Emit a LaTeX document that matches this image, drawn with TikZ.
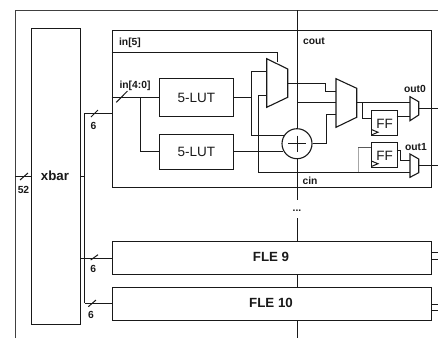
\documentclass[tikz,border=0pt]{standalone}
\usepackage{fontspec}
\setmainfont{Liberation Sans}
\tikzset{
  wire/.style={draw=black!90,line width=1pt},
  blk/.style={draw=black!90,line width=1.1pt,fill=white},
  lab/.style={font=\bfseries\fontsize{10.3}{12}\selectfont,inner sep=0pt,text=black!90},
  biglab/.style={font=\bfseries\fontsize{13.3}{15}\selectfont,inner sep=0pt,text=black!90},
  plainlab/.style={font=\fontsize{13.5}{15}\selectfont,inner sep=0pt,text=black!90},
}
\begin{document}
\begin{tikzpicture}[x=1pt,y=-1pt]
\useasboundingbox (0,0) rectangle (438,338);
% outer frame lines
\coordinate (lt) at (15,10); \coordinate (lb) at (15,338); \coordinate (rt) at (438,10);
\draw[draw=black!75,line width=1pt] (lb) -- (lt) -- (rt);
% xbar
\node[blk,anchor=north west,minimum width=48.5pt,minimum height=295.5pt,inner sep=0pt] (xbar) at (31,28) {};
\node[biglab] (xbarl) at (55,176) {xbar};
% bus wires under the FLE boxes
\coordinate (bus) at (84.7,176);
\draw[wire] (84.7,113.3) -- (84.7,303);
\draw[wire] (84.7,113.3) -- (111.5,113.3);
% FLE boxes
\node[blk,anchor=north west,minimum width=319.5pt,minimum height=157pt,inner sep=0pt] (fle) at (111.5,30) {};
\node[blk,anchor=north west,minimum width=319.5pt,minimum height=32.5pt,inner sep=0pt] (f9) at (111.5,241) {};
\node[blk,anchor=north west,minimum width=319.5pt,minimum height=33.5pt,inner sep=0pt] (f10) at (111.5,286.5) {};
\node[biglab] (f9l) at (271,257) {FLE 9};
\node[biglab] (f10l) at (271,303) {FLE 10};
% LUTs
\node[blk,anchor=north west,minimum width=74.3pt,minimum height=37.2pt,inner sep=0pt,plainlab] (lut1) at (158.7,78.3) {5-LUT};
\node[blk,anchor=north west,minimum width=74.3pt,minimum height=35pt,inner sep=0pt,plainlab] (lut2) at (158.7,134) {5-LUT};
% adder
\node[draw=black!90,line width=1.1pt,fill=white,circle,minimum size=30pt,inner sep=0pt] (add) at (297,143.7) {};
% FFs
\node[blk,anchor=north west,minimum width=25.4pt,minimum height=25.3pt,inner sep=0pt] (ff1) at (371.3,110) {};
\node[blk,anchor=north west,minimum width=25.4pt,minimum height=25pt,inner sep=0pt] (ff2) at (371.3,141.7) {};
\node[plainlab] at (384.5,124) {FF};
\node[plainlab] at (384.5,155.5) {FF};
\draw[wire] (371.3,129.5) -- (378,132.2) -- (371.3,135);
\draw[wire] (371.3,161) -- (378,163.7) -- (371.3,166.5);
% center line
\coordinate (ct) at (297,10); \coordinate (cb) at (297,200);
\coordinate (cr) at (297,218);
\draw[wire] (ct) -- (add.north);
\draw[wire] (add.south) -- (cb);
\draw[wire] (cr) -- (f9.north -| cr);
\draw[wire] (f9.south -| cr) -- (f10.north -| cr);
\draw[wire] (f10.south -| cr) -- (297,338);
\draw[wire] (288.3,143.7) -- (305.7,143.7);
\draw[wire] (297,135.5) -- (297,152);
\node[lab] (dots) at (297,211) {...};
% in wires
\coordinate (x52a) at (31,176);
\draw[wire] (lb |- x52a) -- (xbar.west |- x52a);
\draw[wire] (20,180) -- (28,173);
\node[lab] (l52) at (23.5,190) {52};
\draw[wire] (xbar.east |- bus) -- (bus);
\draw[wire] (91,117) -- (98,110);
\node[lab] (l6a) at (93.5,126) {6};
\draw[wire] (fle.west |- 0,97.6) -- (lut1.west |- 0,97.6);
\draw[wire] (116.3,102.3) -- (127.5,91);
\node[lab] (in40) at (135,85.5) {in[4:0]};
\draw[wire] (140.7,97.6) |- (lut2.west |- 0,151.7);
\draw[wire] (xbar.east |- 0,258.5) -- (f9.west |- 0,258.5);
\draw[wire] (90.7,260) -- (98,254.7);
\node[lab] (l6b) at (93.3,269) {6};
\draw[wire] (84.7,303) -- (f10.west |- 0,303);
\draw[wire] (88.3,306.7) -- (96,300);
\node[lab] (l6c) at (91,315) {6};
% in5
\node[lab] (in5) at (130,42.5) {in[5]};
\draw[wire] (111.5,52) -| (277.3,62);
% mux1
\path[blk] (266.7,58.7) -- (287.7,69) -- (287.7,97.3) -- (266.7,107.3) -- cycle;
% lut routing
\draw[wire] (lut1.east |- 0,97) -- (251.3,97);
\draw[wire] (266.7,71) -- (251.3,71) -- (251.3,135.3) -- (284,135.3);
\draw[wire] (lut2.east |- 0,151.7) -- (283,151.7);
\draw[wire] (266.7,95) -- (258.3,95) -- (258.3,172) -- (410,172);
% mux2
\path[blk] (336,78.7) -- (356.7,88.3) -- (356.7,117.3) -- (336,127.3) -- cycle;
\draw[wire] (287.7,83.3) -- (325,83.3) -- (325,91) -- (336,91);
\draw[wire] (297,102.7) -- (336,102.7);
\draw[wire] (add.east) -- (326.7,143.7) -- (326.7,114.7) -- (336,114.7);
% mux3/4
\path[blk] (410,96.7) -- (418.7,101.7) -- (418.7,115) -- (410,120.7) -- cycle;
\path[blk] (410,154) -- (418.7,159) -- (418.7,172.7) -- (410,177.3) -- cycle;
\draw[wire] (356.7,102.3) -- (410,102.3);
\draw[wire] (362.7,102.3) -- (362.7,118.3) -- (371.3,118.3);
\draw[wire] (396.7,116.7) -- (410,116.7);
\draw[wire] (418.7,108.7) -- (438,108.7);
\draw[wire] (396.7,150.7) -- (400,150.7) -- (400,160) -- (410,160);
\draw[wire] (418.7,165.7) -- (438,165.7);
\draw[draw=black!35,line width=0.7pt] (358.3,172) -- (358.3,147.7);
\draw[draw=black!65,line width=1pt] (358.3,147.7) -- (371.3,147.7);
% labels
\node[lab] (cout) at (314,41.5) {cout};
\node[lab] (cin) at (310,181) {cin};
\node[lab] (o0) at (415,89) {out0};
\node[lab] (o1) at (416,147.5) {out1};
% FLE outs
\draw[wire] (431,252.3) -- (438,252.3);
\draw[wire] (431,259) -- (438,259);
\draw[wire] (431,304) -- (438,304);
\draw[wire] (431,310.7) -- (438,310.7);
\end{tikzpicture}
\end{document}
